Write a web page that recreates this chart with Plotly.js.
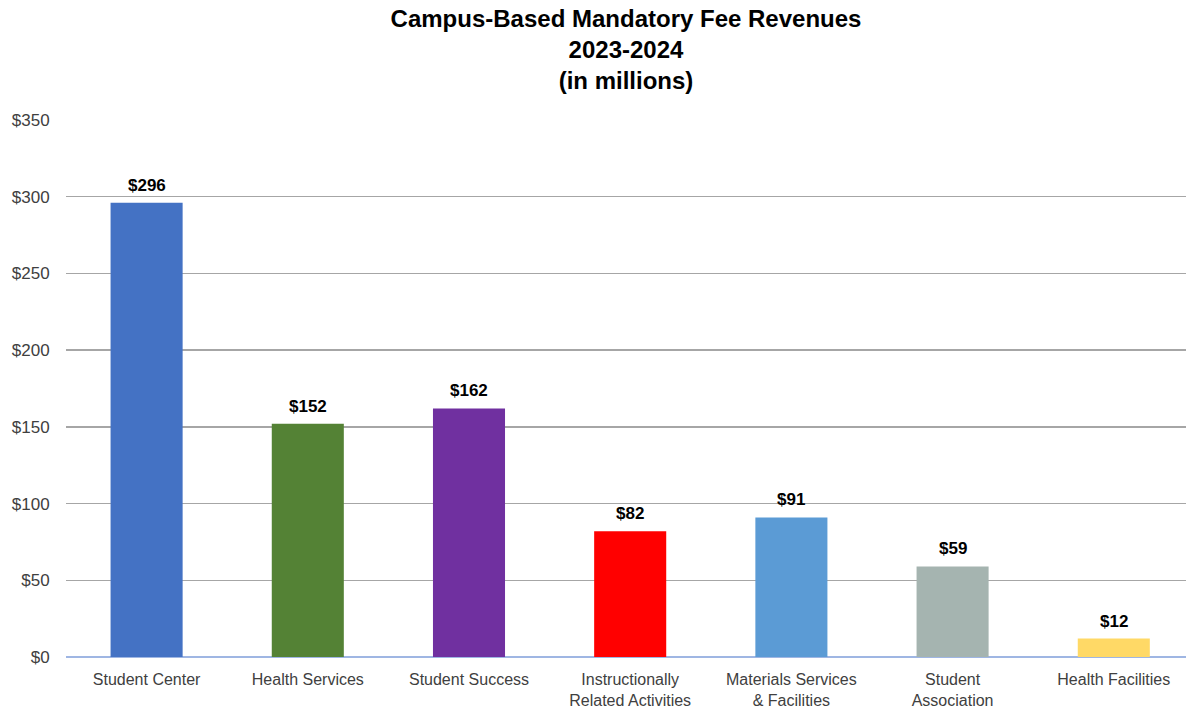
<!DOCTYPE html>
<html>
<head>
<meta charset="utf-8">
<script src="https://cdn.plot.ly/plotly-3.0.1.min.js"></script>
<style>html,body{margin:0;padding:0;background:#fff;}#chart{width:1186px;height:711px;}</style>
</head>
<body>
<div id="chart"></div>
<script>
const categories = ["Student Center", "Health Services", "Student Success", "Instructionally<br>Related Activities", "Materials Services<br>& Facilities", "Student<br>Association", "Health Facilities"];
const values = [296, 152, 162, 82, 91, 59, 12];
const valueLabels = ["$296", "$152", "$162", "$82", "$91", "$59", "$12"];
const barColors = ["#4472C4", "#548235", "#7030A0", "#FF0000", "#5B9BD5", "#A5B4B0", "#FFD966"];
const yTickVals = [0, 50, 100, 150, 200, 250, 300, 350];
const yTickText = ["$0", "$50", "$100", "$150", "$200", "$250", "$300", "$350"];

const FONT = "Arial, 'Liberation Sans', sans-serif";
const xIdx = categories.map((c, i) => i);

const trace = {
  type: "bar",
  x: xIdx,
  y: values,
  width: 0.447,
  marker: {color: barColors},
  hoverinfo: "skip"
};

const annotations = values.map((v, i) => ({
  x: i, y: v, xref: "x", yref: "y",
  text: "<b>" + valueLabels[i] + "</b>", showarrow: false,
  yanchor: "bottom", yshift: 6,
  font: {family: FONT, size: 17, color: "#000"}
}));

const layout = {
  width: 1186, height: 711,
  margin: {l: 66, r: 0, t: 120, b: 54},
  paper_bgcolor: "#fff", plot_bgcolor: "#fff",
  showlegend: false,
  title: {
    text: "<b>Campus-Based Mandatory Fee Revenues<br>2023-2024<br>(in millions)</b>",
    font: {family: FONT, size: 24, color: "#000"},
    x: 0.5, xref: "paper", xanchor: "center",
    y: 0.962, yref: "container", yanchor: "top"
  },
  xaxis: {
    range: [-0.5, 6.448],
    tickvals: xIdx, ticktext: categories,
    tickfont: {family: FONT, size: 16, color: "#404040"},
    ticks: "outside", ticklen: 8, tickcolor: "rgba(0,0,0,0)",
    showgrid: false, zeroline: false, showline: false
  },
  yaxis: {
    range: [0, 350],
    tickvals: yTickVals, ticktext: yTickText,
    tickfont: {family: FONT, size: 17, color: "#404040"},
    ticks: "outside", ticklen: 12, tickcolor: "rgba(0,0,0,0)",
    showgrid: true, gridcolor: "#a6a6a6", gridwidth: 1.3,
    zeroline: true, zerolinecolor: "#9fb6e3", zerolinewidth: 1.5,
    showline: false
  },
  annotations: annotations
};

Plotly.newPlot("chart", [trace], layout, {displayModeBar: false, staticPlot: true});
</script>
</body>
</html>
